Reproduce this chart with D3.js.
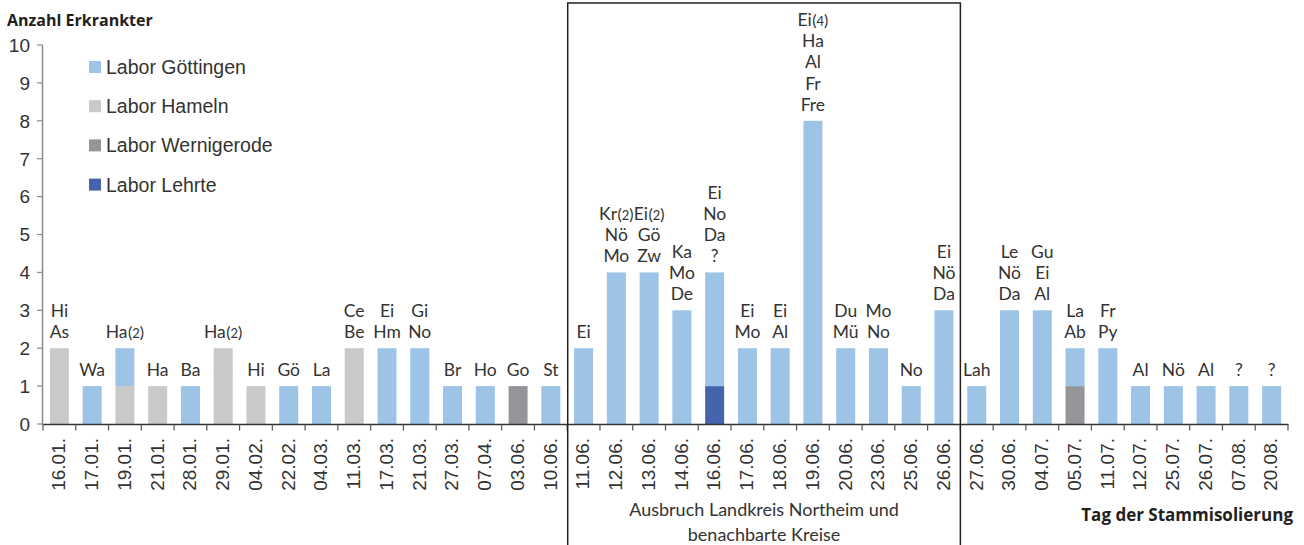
<!DOCTYPE html>
<html>
<head>
<meta charset="utf-8">
<script src="https://cdn.jsdelivr.net/npm/d3@7"></script>
<style>
  body { margin: 0; background: #fff; }
  .tick-label { font: 19px "Liberation Sans", Arial, sans-serif; fill: #333; }
  .bar-label { font: 17.5px Lato, sans-serif; fill: #333; }
  .bar-label .paren { font-size: 16px; }
  .bar-label .digit { font-size: 13px; }
  .legend-text { font: 19.5px "Liberation Sans", Arial, sans-serif; fill: #333; }
  .axis-title { font: bold 16px "Open Sans", sans-serif; fill: #231f20; }
  .box-text { font: 18px Lato, sans-serif; fill: #333; }
</style>
</head>
<body>
<div class="chart"></div>
<script>
var svgWidth = 1304;
var svgHeight = 545;

var dates = ["16.01.", "17.01.", "19.01.", "21.01.", "28.01.", "29.01.", "04.02.", "22.02.",
  "04.03.", "11.03.", "17.03.", "21.03.", "27.03.", "07.04.", "03.06.", "10.06.",
  "11.06.", "12.06.", "13.06.", "14.06.", "16.06.", "17.06.", "18.06.", "19.06.",
  "20.06.", "23.06.", "25.06.", "26.06.",
  "27.06.", "30.06.", "04.07.", "05.07.", "11.07.", "12.07.", "25.07.", "26.07.", "07.08.", "20.08."];

var goettingen = [0, 1, 1, 0, 1, 0, 0, 1, 1, 0, 2, 2, 1, 1, 0, 1,
  2, 4, 4, 3, 3, 2, 2, 8, 2, 2, 1, 3,
  1, 3, 3, 1, 2, 1, 1, 1, 1, 1];
var hameln = [2, 0, 1, 1, 0, 2, 1, 0, 0, 2, 0, 0, 0, 0, 0, 0,
  0, 0, 0, 0, 0, 0, 0, 0, 0, 0, 0, 0,
  0, 0, 0, 0, 0, 0, 0, 0, 0, 0];
var wernigerode = [0, 0, 0, 0, 0, 0, 0, 0, 0, 0, 0, 0, 0, 0, 1, 0,
  0, 0, 0, 0, 0, 0, 0, 0, 0, 0, 0, 0,
  0, 0, 0, 1, 0, 0, 0, 0, 0, 0];
var lehrte = [0, 0, 0, 0, 0, 0, 0, 0, 0, 0, 0, 0, 0, 0, 0, 0,
  0, 0, 0, 0, 1, 0, 0, 0, 0, 0, 0, 0,
  0, 0, 0, 0, 0, 0, 0, 0, 0, 0];

var barLabels = [["Hi", "As"], ["Wa"], ["Ha(2)"], ["Ha"], ["Ba"], ["Ha(2)"], ["Hi"], ["Gö"],
  ["La"], ["Ce", "Be"], ["Ei", "Hm"], ["Gi", "No"], ["Br"], ["Ho"], ["Go"], ["St"],
  ["Ei"], ["Kr(2)", "Nö", "Mo"], ["Ei(2)", "Gö", "Zw"], ["Ka", "Mo", "De"], ["Ei", "No", "Da", "?"],
  ["Ei", "Mo"], ["Ei", "Al"], ["Ei(4)", "Ha", "Al", "Fr", "Fre"], ["Du", "Mü"], ["Mo", "No"], ["No"],
  ["Ei", "Nö", "Da"],
  ["Lah"], ["Le", "Nö", "Da"], ["Gu", "Ei", "Al"], ["La", "Ab"], ["Fr", "Py"], ["Al"], ["Nö"], ["Al"],
  ["?"], ["?"]];

var yTicks = [0, 1, 2, 3, 4, 5, 6, 7, 8, 9, 10];

// stacking order bottom -> top
var labs = ["hameln", "wernigerode", "lehrte", "goettingen"];
var labNames = { goettingen: "Labor Göttingen", hameln: "Labor Hameln", wernigerode: "Labor Wernigerode", lehrte: "Labor Lehrte" };
var legendOrder = ["goettingen", "hameln", "wernigerode", "lehrte"];
var colors = { goettingen: "#9dc3e6", hameln: "#c8c9cb", wernigerode: "#939598", lehrte: "#4664ad" };

var outbreakStart = "11.06.";
var outbreakEnd = "27.06.";

var table = dates.map(function(d, i) {
  return { date: d, goettingen: goettingen[i], hameln: hameln[i], wernigerode: wernigerode[i], lehrte: lehrte[i], labels: barLabels[i] };
});

var svg = d3
  .select(".chart")
  .append("svg")
  .attr("width", svgWidth)
  .attr("height", svgHeight);

var xScale = d3.scaleBand().domain(dates).range([43, 1288]).padding(0);
var yScale = d3.scaleLinear().domain([0, 10]).range([424, 45]);
var barWidth = 19;

var stacked = d3.stack().keys(labs)(table);

svg.append("g")
  .selectAll("g")
  .data(stacked)
  .enter()
  .append("g")
  .attr("fill", function(s) { return colors[s.key]; })
  .selectAll("rect")
  .data(function(s) { return s; })
  .enter()
  .filter(function(d) { return d[1] > d[0]; })
  .append("rect")
  .attr("x", function(d) { return xScale(d.data.date) + (xScale.bandwidth() - barWidth) / 2; })
  .attr("y", function(d) { return yScale(d[1]); })
  .attr("width", barWidth)
  .attr("height", function(d) { return yScale(d[0]) - yScale(d[1]); });

// labels above bars, the digit inside "(n)" is set smaller (old-style look)
table.forEach(function(row) {
  var total = row.goettingen + row.hameln + row.wernigerode + row.lehrte;
  var cx = xScale(row.date) + xScale.bandwidth() / 2;
  var n = row.labels.length;
  var texts = svg.append("g")
    .selectAll("text")
    .data(row.labels)
    .enter()
    .append("text")
    .attr("class", "bar-label")
    .attr("text-anchor", "middle")
    .attr("x", cx)
    .attr("y", function(t, i) { return yScale(total) - 10 - (n - 1 - i) * 21.3; });

  texts.each(function(t) {
    var m = t.match(/^(.*)\((\d)\)$/);
    var el = d3.select(this);
    if (!m) {
      el.text(t);
      return;
    }
    el.append("tspan").text(m[1]);
    el.append("tspan").attr("class", "paren").attr("dx", 0.5).text("(");
    el.append("tspan").attr("class", "digit").text(m[2]);
    el.append("tspan").attr("class", "paren").text(")");
  });
});

// x axis
var xAxis = svg.append("g");
xAxis.append("line")
  .attr("x1", 42).attr("x2", 1288.5)
  .attr("y1", 424.5).attr("y2", 424.5)
  .attr("stroke", "#333").attr("stroke-width", 1.5);

xAxis.selectAll(".xtick")
  .data(dates.concat(["end"]))
  .enter()
  .append("line")
  .attr("x1", function(d, i) { return i < dates.length ? xScale(d) : xScale.range()[1]; })
  .attr("x2", function(d, i) { return i < dates.length ? xScale(d) : xScale.range()[1]; })
  .attr("y1", 424.5).attr("y2", 430.5)
  .attr("stroke", "#555").attr("stroke-width", 1.2);

xAxis.selectAll(".xlabel")
  .data(dates)
  .enter()
  .append("text")
  .attr("class", "tick-label")
  .attr("text-anchor", "end")
  .attr("dy", "0.36em")
  .attr("transform", function(d) {
    return "translate(" + (xScale(d) + xScale.bandwidth() / 2 - 1) + ",438) rotate(-90)";
  })
  .text(function(d) { return d; });

// y axis
var yAxis = svg.append("g");
yAxis.append("line")
  .attr("x1", 42.5).attr("x2", 42.5)
  .attr("y1", yScale(10)).attr("y2", 425)
  .attr("stroke", "#8c8c8c").attr("stroke-width", 1.5);

yAxis.selectAll(".ytick")
  .data(yTicks)
  .enter()
  .append("line")
  .attr("x1", 37).attr("x2", 42.5)
  .attr("y1", function(d) { return yScale(d); })
  .attr("y2", function(d) { return yScale(d); })
  .attr("stroke", "#8c8c8c").attr("stroke-width", 1.2);

yAxis.selectAll(".ylabel")
  .data(yTicks)
  .enter()
  .append("text")
  .attr("class", "tick-label")
  .attr("text-anchor", "end")
  .attr("x", 30)
  .attr("y", function(d) { return yScale(d); })
  .attr("dy", "0.36em")
  .text(function(d) { return d; });

svg.append("text")
  .attr("class", "axis-title")
  .attr("x", 7)
  .attr("y", 26)
  .text("Anzahl Erkrankter");

svg.append("text")
  .attr("class", "axis-title")
  .attr("text-anchor", "end")
  .attr("x", 1293)
  .attr("y", 521)
  .style("font-size", "17px")
  .text("Tag der Stammisolierung");

// outbreak box
var boxLeft = xScale(outbreakStart) + 0.5;
var boxRight = xScale(outbreakEnd);
svg.append("path")
  .attr("d", "M" + boxLeft + "," + 560 + "V3H" + boxRight + "V560")
  .attr("fill", "none")
  .attr("stroke", "#231f20")
  .attr("stroke-width", 1.5);

svg.append("text")
  .attr("class", "box-text")
  .attr("text-anchor", "middle")
  .attr("x", (boxLeft + boxRight) / 2)
  .attr("y", 516)
  .text("Ausbruch Landkreis Northeim und");

svg.append("text")
  .attr("class", "box-text")
  .attr("text-anchor", "middle")
  .attr("x", (boxLeft + boxRight) / 2)
  .attr("y", 541)
  .text("benachbarte Kreise");

// legend
var legend = svg.append("g")
  .selectAll("g")
  .data(legendOrder)
  .enter()
  .append("g")
  .attr("transform", function(d, i) { return "translate(89," + (67 + i * 39.2) + ")"; });

legend.append("rect")
  .attr("x", 0).attr("y", -6)
  .attr("width", 12).attr("height", 12)
  .attr("fill", function(d) { return colors[d]; });

legend.append("text")
  .attr("class", "legend-text")
  .attr("x", 17)
  .attr("dy", "0.36em")
  .text(function(d) { return labNames[d]; });
</script>
</body>
</html>
